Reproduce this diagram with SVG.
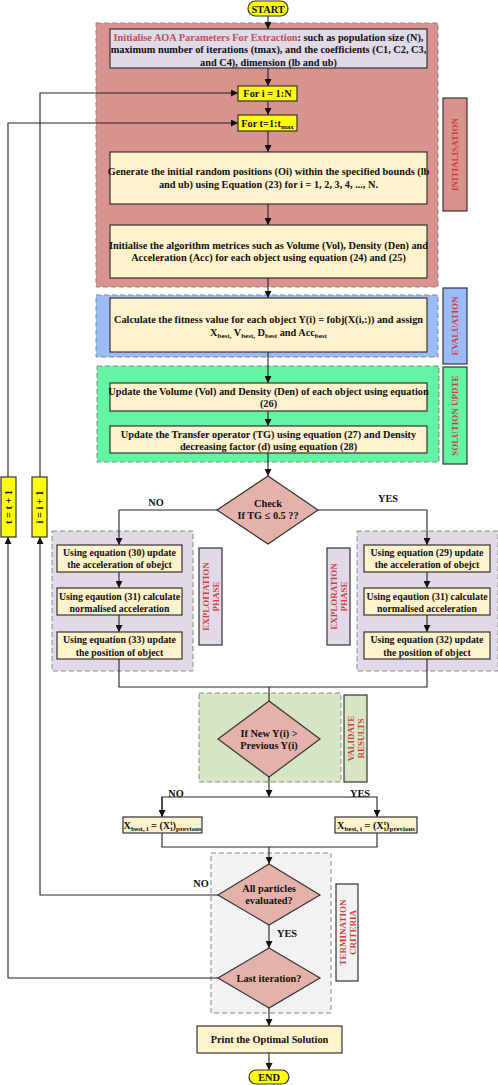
<svg xmlns="http://www.w3.org/2000/svg" width="498" height="1085" viewBox="0 0 498 1085">
<style>
text{font-family:"Liberation Serif","Times New Roman",serif;font-weight:bold;fill:#111;text-anchor:middle}
.t{font-size:10.3px}
.n{font-size:9.8px}
.s{font-size:7px}
.side{font-family:"Liberation Serif",serif;font-weight:bold;fill:#d03c3c;font-size:9px}
.grp{stroke:#8a8a8a;stroke-width:1;stroke-dasharray:5,3}
.box{fill:#fff2cc;stroke:#333;stroke-width:1.2}
.yel{fill:#ffff00;stroke:#333;stroke-width:1.2}
.dia{fill:#e5b1ab;stroke:#333;stroke-width:1.2}
.lab{stroke:#333;stroke-width:1.2}
.c{fill:none;stroke:#222;stroke-width:1.1}
</style>
<defs>
<marker id="ah" viewBox="0 0 10 10" refX="10" refY="5" markerWidth="7" markerHeight="7" orient="auto" markerUnits="userSpaceOnUse">
<path d="M0,0 L10,5 L0,10 z" fill="#111"/>
</marker>
</defs>
<rect width="498" height="1085" fill="#fff"/>

<!-- group backgrounds -->
<g id="groups">
<rect class="grp" x="96" y="23" width="342" height="264" fill="#d9938f"/>
<rect class="grp" x="96" y="295" width="342" height="62" fill="#9cbcf7"/>
<rect class="grp" x="97" y="366" width="342" height="96" fill="#63f5a4"/>
<rect class="grp" x="52" y="531" width="141" height="140" fill="#e0d9e8"/>
<rect class="grp" x="357" y="531" width="141" height="140" fill="#e0d9e8"/>
<rect class="grp" x="199" y="693" width="142" height="89" fill="#d7e5c4"/>
<rect class="grp" x="211" y="853" width="120" height="160" fill="#f2f2f2"/>
</g>

<!-- side labels -->
<g id="label-init"><rect class="lab" x="443" y="98" width="24" height="113" fill="#d9938f"/><text class="side" transform="translate(458,154.5) rotate(-90)">INITIALISATION</text></g>
<g id="label-eval"><rect class="lab" x="443" y="288" width="24" height="76" fill="#9cbcf7"/><text class="side" transform="translate(458,326) rotate(-90)">EVALUATION</text></g>
<g id="label-sol"><rect class="lab" x="443" y="367" width="24" height="97" fill="#63f5a4"/><text class="side" transform="translate(458,415.5) rotate(-90)">SOLUTION UPDTE</text></g>
<g id="label-exploit"><rect class="lab" x="199" y="548" width="23" height="97" fill="#e0d9e8"/><text class="side" transform="translate(209,596.5) rotate(-90)"><tspan x="0" dy="0">EXPLOITATION</tspan><tspan x="0" dy="10">PHASE</tspan></text></g>
<g id="label-explore"><rect class="lab" x="327" y="548" width="23" height="97" fill="#e0d9e8"/><text class="side" transform="translate(337,596.5) rotate(-90)"><tspan x="0" dy="0">EXPLORATION</tspan><tspan x="0" dy="10">PHASE</tspan></text></g>
<g id="label-valid"><rect class="lab" x="344" y="695" width="23" height="87" fill="#d7e5c4"/><text class="side" transform="translate(354,738.5) rotate(-90)"><tspan x="0" dy="0">VALIDATE</tspan><tspan x="0" dy="10">RESULTS</tspan></text></g>
<g id="label-term"><rect class="lab" x="336" y="884" width="22" height="97" fill="#f2f2f2"/><text class="side" transform="translate(346,932.5) rotate(-90)"><tspan x="0" dy="0">TERMINATION</tspan><tspan x="0" dy="10">CRITERIA</tspan></text></g>

<!-- connectors -->
<g id="connectors">
<path class="c" d="M268,16 V29" marker-end="url(#ah)"/>
<path class="c" d="M268,68 V86" marker-end="url(#ah)"/>
<path class="c" d="M268,101 V115" marker-end="url(#ah)"/>
<path class="c" d="M268,131 V152" marker-end="url(#ah)"/>
<path class="c" d="M268,204 V225" marker-end="url(#ah)"/>
<path class="c" d="M268,278 V298" marker-end="url(#ah)"/>
<path class="c" d="M268,352 V383" marker-end="url(#ah)"/>
<path class="c" d="M268,411 V426" marker-end="url(#ah)"/>
<path class="c" d="M268,453 V476" marker-end="url(#ah)"/>
<path class="c" d="M217,510 H119 V545" marker-end="url(#ah)"/>
<path class="c" d="M318,510 H427 V545" marker-end="url(#ah)"/>
<path class="c" d="M119,572 V588" marker-end="url(#ah)"/>
<path class="c" d="M119,615 V632" marker-end="url(#ah)"/>
<path class="c" d="M427,572 V588" marker-end="url(#ah)"/>
<path class="c" d="M427,615 V632" marker-end="url(#ah)"/>
<path class="c" d="M119,659 V687 H427 V659"/>
<path class="c" d="M269,687 V701"/>
<path class="c" d="M269,777 V797" marker-end="url(#ah)"/>
<path class="c" d="M162,817 V797 H377 V817" marker-end="url(#ah)"/>
<path class="c" d="M162,797 V817" marker-end="url(#ah)"/>
<path class="c" d="M162,833 V847 H377 V833"/>
<path class="c" d="M269,847 V864" marker-end="url(#ah)"/>
<path class="c" d="M269,925 V948" marker-end="url(#ah)"/>
<path class="c" d="M218,895 H40 V537" marker-end="url(#ah)"/>
<path class="c" d="M40,477 V93 H238" marker-end="url(#ah)"/>
<path class="c" d="M218,978 H8 V537" marker-end="url(#ah)"/>
<path class="c" d="M8,477 V123 H238" marker-end="url(#ah)"/>
<path class="c" d="M269,1008 V1026" marker-end="url(#ah)"/>
<path class="c" d="M269,1053 V1070" marker-end="url(#ah)"/>
</g>

<!-- edge labels -->
<g id="edge-labels" class="t">
<text x="156" y="506">NO</text>
<text x="388" y="502">YES</text>
<text x="176" y="797">NO</text>
<text x="360" y="797">YES</text>
<text x="201" y="887">NO</text>
<text x="287" y="937">YES</text>
</g>

<!-- nodes -->
<g id="start"><rect x="248" y="1" width="40" height="15" rx="7.5" class="yel"/><text class="t" x="268" y="12.5">START</text></g>

<g id="init-params"><rect x="110" y="29" width="317" height="39" fill="#e0d9e8" stroke="#333" stroke-width="1.2"/>
<text class="t" x="268.5" y="40.5"><tspan fill="#c0504d">Initialise AOA Parameters For Extraction</tspan>:  such as population size (N),</text>
<text class="t" x="268.5" y="53">maximum number of iterations (tmax), and the coefficients (C1, C2, C3,</text>
<text class="t" x="268.5" y="65.5">and C4), dimension (lb and ub)</text></g>

<g id="for-i"><rect x="238" y="86" width="59" height="15" class="yel"/><text class="t" x="267.5" y="97">For i = 1:N</text></g>
<g id="for-t"><rect x="238" y="115" width="59" height="16" class="yel"/><text class="t" x="267.5" y="126.5">For t=1:t<tspan class="s" dy="2">max</tspan></text></g>

<g id="generate"><rect x="110" y="152" width="317" height="52" class="box"/>
<text class="t" x="268.5" y="175">Generate the initial random positions (Oi) within the specified bounds (lb</text>
<text class="t" x="268.5" y="187.5">and ub) using Equation (23) for i = 1, 2, 3, 4, ..., N.</text></g>

<g id="init-metrics"><rect x="110" y="225" width="317" height="53" class="box"/>
<text class="t" x="268.5" y="248.5">Initialise the algorithm metrices such as Volume (Vol), Density (Den) and</text>
<text class="t" x="268.5" y="261">Acceleration (Acc) for each object using equation (24) and (25)</text></g>

<g id="fitness"><rect x="110" y="298" width="317" height="54" class="box"/>
<text class="t" x="268.5" y="322.5">Calculate the fitness value for each object Y(i) = fobj(X(i,:)) and assign</text>
<text class="t" x="268.5" y="336">X<tspan class="s" dy="2">best,</tspan><tspan dy="-2"> V</tspan><tspan class="s" dy="2">best,</tspan><tspan dy="-2"> D</tspan><tspan class="s" dy="2">best</tspan><tspan dy="-2"> and Acc</tspan><tspan class="s" dy="2">best</tspan></text></g>

<g id="update-vol"><rect x="110" y="383" width="317" height="28" class="box"/>
<text class="t" x="268.5" y="394.5">Update the Volume (Vol) and Density (Den) of each object using equation</text>
<text class="t" x="268.5" y="407">(26)</text></g>

<g id="update-tg"><rect x="110" y="426" width="317" height="27" class="box"/>
<text class="t" x="268.5" y="437.5">Update the Transfer operator (TG) using equation (27) and Density</text>
<text class="t" x="268.5" y="449.5">decreasing factor (d) using equation (28)</text></g>

<g id="check"><polygon points="268,476 318,510 268,544 217,510" class="dia"/>
<text class="t" x="268" y="507">Check</text>
<text class="t" x="268" y="519">If  TG ≤ 0.5 ??</text></g>

<g id="exploit-1"><rect x="57" y="545" width="125" height="27" class="box"/>
<text class="n" x="119.5" y="556">Using equation (30) update</text>
<text class="n" x="119.5" y="568">the acceleration of obejct</text></g>
<g id="exploit-2"><rect x="57" y="588" width="125" height="27" class="box"/>
<text class="n" x="119.5" y="599.5">Using eqaution (31) calculate</text>
<text class="n" x="119.5" y="611.5">normalised acceleration</text></g>
<g id="exploit-3"><rect x="57" y="632" width="125" height="27" class="box"/>
<text class="n" x="119.5" y="643">Using equation (33) update</text>
<text class="n" x="119.5" y="655.5">the position of object</text></g>

<g id="explore-1"><rect x="364" y="545" width="126" height="27" class="box"/>
<text class="n" x="427" y="556">Using equation (29) update</text>
<text class="n" x="427" y="568">the acceleration of obejct</text></g>
<g id="explore-2"><rect x="364" y="588" width="126" height="27" class="box"/>
<text class="n" x="427" y="599.5">Using eqaution (31) calculate</text>
<text class="n" x="427" y="611.5">normalised acceleration</text></g>
<g id="explore-3"><rect x="364" y="632" width="126" height="27" class="box"/>
<text class="n" x="427" y="643">Using equation (32) update</text>
<text class="n" x="427" y="655.5">the position of object</text></g>

<g id="validate"><polygon points="269,701 320,739 269,777 218,739" class="dia"/>
<text class="t" x="269" y="736.5">If New Y(i) &gt;</text>
<text class="t" x="269" y="749">Previous Y(i)</text></g>

<g id="xbest-left"><rect x="123" y="817" width="79" height="16" class="box"/>
<text class="t" x="162.5" y="828.5">X<tspan class="s" dy="2">best, i</tspan><tspan dy="-2"> = (X</tspan><tspan class="s" dy="-4">t</tspan><tspan class="s" dx="-2" dy="6">i</tspan><tspan dy="-2">)</tspan><tspan class="s" dy="2">previous</tspan></text></g>
<g id="xbest-right"><rect x="335" y="817" width="82" height="16" class="box"/>
<text class="t" x="376" y="828.5">X<tspan class="s" dy="2">best, i</tspan><tspan dy="-2"> = (X</tspan><tspan class="s" dy="-4">t</tspan><tspan class="s" dx="-2" dy="6">i</tspan><tspan dy="-2">)</tspan><tspan class="s" dy="2">previous</tspan></text></g>

<g id="all-evaluated"><polygon points="269,864 320,895 269,925 218,895" class="dia"/>
<text class="t" x="269" y="892">All particles</text>
<text class="t" x="269" y="904">evaluated?</text></g>

<g id="last-iteration"><polygon points="269,948 320,978 269,1008 218,978" class="dia"/>
<text class="t" x="269" y="981.5">Last iteration?</text></g>

<g id="print"><rect x="197" y="1026" width="145" height="27" class="box"/>
<text class="t" x="269.5" y="1043">Print the Optimal Solution</text></g>

<g id="end"><rect x="249" y="1070" width="40" height="14" rx="7" class="yel"/><text class="t" x="269" y="1081">END</text></g>

<g id="inc-i"><rect x="32" y="477" width="15" height="60" class="yel"/><text class="t" transform="translate(43,507) rotate(-90)">i = i + 1</text></g>
<g id="inc-t"><rect x="1" y="477" width="15" height="60" class="yel"/><text class="t" transform="translate(12,507) rotate(-90)">t = t + 1</text></g>
</svg>
